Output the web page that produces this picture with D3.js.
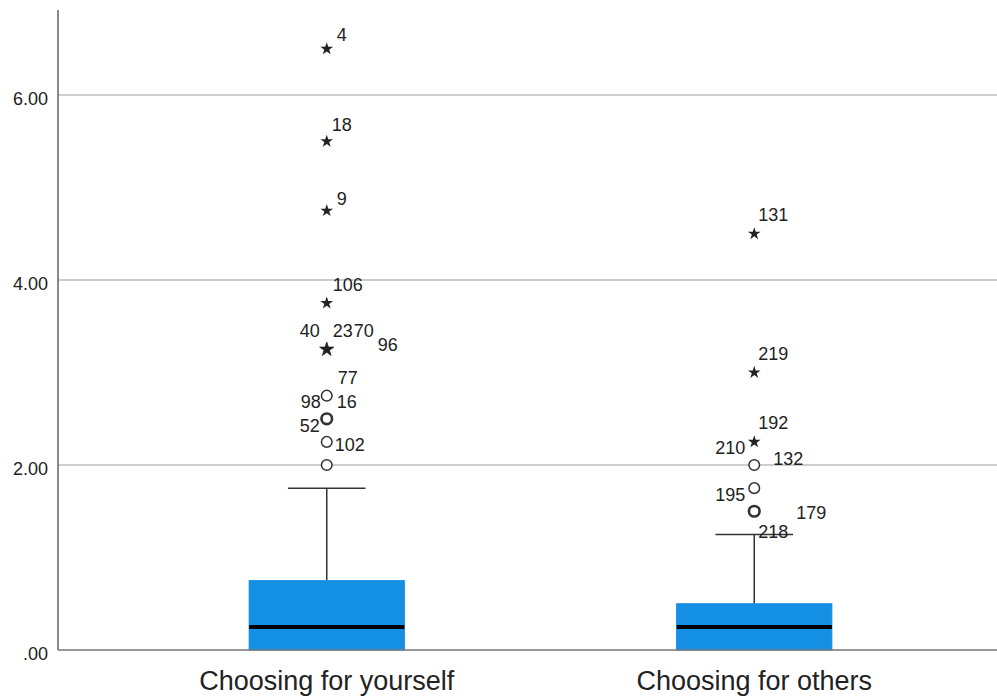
<!DOCTYPE html>
<html>
<head>
<meta charset="utf-8">
<script src="https://cdn.jsdelivr.net/npm/d3@7"></script>
<style>
  body { margin: 0; background: #fff; }
  text { font-family: "Liberation Sans", Arial, sans-serif; fill: #222; }
</style>
</head>
<body>
<div id="chart"></div>
<script>
// box summaries, one entry per category
var categories = ["Choosing for yourself", "Choosing for others"];
var q1 = [0, 0];
var medians = [0.25, 0.25];
var q3 = [0.75, 0.5];
var whiskerLow = [0, 0];
var whiskerHigh = [1.75, 1.25];

// outliers: category index, value, kind (circle = outlier, star = extreme), multiple cases
var outliers = [
    {cat: 0, value: 2.0, kind: "circle", multi: false},
    {cat: 0, value: 2.25, kind: "circle", multi: false},
    {cat: 0, value: 2.5, kind: "circle", multi: true},
    {cat: 0, value: 2.75, kind: "circle", multi: false},
    {cat: 0, value: 3.25, kind: "star", multi: true},
    {cat: 0, value: 3.75, kind: "star", multi: false},
    {cat: 0, value: 4.75, kind: "star", multi: false},
    {cat: 0, value: 5.5, kind: "star", multi: false},
    {cat: 0, value: 6.5, kind: "star", multi: false},
    {cat: 1, value: 1.5, kind: "circle", multi: true},
    {cat: 1, value: 1.75, kind: "circle", multi: false},
    {cat: 1, value: 2.0, kind: "circle", multi: false},
    {cat: 1, value: 2.25, kind: "star", multi: false},
    {cat: 1, value: 3.0, kind: "star", multi: false},
    {cat: 1, value: 4.5, kind: "star", multi: false}
];

// case labels next to outliers
var caseLabels = [
    {cat: 0, value: 6.5, label: "4"},
    {cat: 0, value: 5.5, label: "18"},
    {cat: 0, value: 4.75, label: "9"},
    {cat: 0, value: 3.75, label: "106"},
    {cat: 0, value: 3.25, label: "40"},
    {cat: 0, value: 3.25, label: "23"},
    {cat: 0, value: 3.25, label: "70"},
    {cat: 0, value: 3.25, label: "96"},
    {cat: 0, value: 2.75, label: "77"},
    {cat: 0, value: 2.75, label: "98"},
    {cat: 0, value: 2.5, label: "16"},
    {cat: 0, value: 2.5, label: "52"},
    {cat: 0, value: 2.25, label: "102"},
    {cat: 1, value: 4.5, label: "131"},
    {cat: 1, value: 3.0, label: "219"},
    {cat: 1, value: 2.25, label: "192"},
    {cat: 1, value: 2.25, label: "210"},
    {cat: 1, value: 2.0, label: "132"},
    {cat: 1, value: 1.75, label: "195"},
    {cat: 1, value: 1.5, label: "179"},
    {cat: 1, value: 1.5, label: "218"}
];

var yTicks = [0, 2, 4, 6];

// label placement relative to the marker: [dx, dy, anchor]
var labelPos = {
    "4": [10, -8, "start"], "18": [5, -10, "start"], "9": [10, -6, "start"],
    "106": [6, -12, "start"], "40": [-7, -12, "end"], "23": [6, -12, "start"],
    "70": [27, -12, "start"],
    "96": [51, 2, "start"], "77": [11, -12, "start"], "98": [-6, 12, "end"],
    "16": [10, -11, "start"], "52": [-7, 13, "end"], "102": [8, 9, "start"],
    "131": [4, -13, "start"], "219": [4, -13, "start"], "192": [4, -13, "start"],
    "210": [-9, 12, "end"], "132": [19, 0, "start"], "195": [-9, 13, "end"],
    "179": [42, 8, "start"], "218": [4, 27, "start"]
};

function draw_chart() {
    var width = 997, height = 696;
    var axisX = 58, plotRight = 997, plotBottom = 650, plotTop = 10;

    var svg = d3.select("#chart").append("svg")
        .attr("width", width).attr("height", height);

    var y = d3.scaleLinear().domain([0, 6.92]).range([plotBottom, plotTop]);
    var x = d3.scaleBand().domain(d3.range(categories.length))
        .range([113, 968]).padding(0);
    var boxW = x.bandwidth() * 0.363;
    function cx(i) { return x(i) + x.bandwidth() / 2; }

    // gridlines
    svg.selectAll("line.grid")
        .data(yTicks.filter(function(d) { return d > 0; }))
        .enter().append("line")
        .attr("class", "grid")
        .attr("x1", axisX).attr("x2", plotRight)
        .attr("y1", function(d) { return y(d); })
        .attr("y2", function(d) { return y(d); })
        .attr("stroke", "#bdbdbd").attr("stroke-width", 1.5);

    // y tick labels
    var fmt = d3.format(".2f");
    svg.selectAll("text.ytick")
        .data(yTicks)
        .enter().append("text")
        .attr("class", "ytick")
        .attr("x", 48)
        .attr("y", function(d) { return y(d) + 10; })
        .attr("text-anchor", "end")
        .style("font-size", "18px")
        .text(function(d) { return fmt(d).replace(/^0/, ""); });

    // whiskers
    var g = svg.selectAll("g.box")
        .data(categories)
        .enter().append("g").attr("class", "box");

    g.append("line")
        .attr("x1", function(d, i) { return cx(i); })
        .attr("x2", function(d, i) { return cx(i); })
        .attr("y1", function(d, i) { return y(q3[i]); })
        .attr("y2", function(d, i) { return y(whiskerHigh[i]); })
        .attr("stroke", "#333").attr("stroke-width", 1.5);
    g.append("line")
        .attr("x1", function(d, i) { return cx(i) - boxW / 4; })
        .attr("x2", function(d, i) { return cx(i) + boxW / 4; })
        .attr("y1", function(d, i) { return y(whiskerHigh[i]); })
        .attr("y2", function(d, i) { return y(whiskerHigh[i]); })
        .attr("stroke", "#333").attr("stroke-width", 1.5);

    // boxes
    g.append("rect")
        .attr("x", function(d, i) { return cx(i) - boxW / 2; })
        .attr("width", boxW)
        .attr("y", function(d, i) { return y(q3[i]); })
        .attr("height", function(d, i) { return y(q1[i]) - y(q3[i]); })
        .attr("fill", "#1490e4")
        .attr("stroke", "#1a8ae0").attr("stroke-width", 1);

    g.append("line")
        .attr("x1", function(d, i) { return cx(i) - boxW / 2; })
        .attr("x2", function(d, i) { return cx(i) + boxW / 2; })
        .attr("y1", function(d, i) { return y(medians[i]); })
        .attr("y2", function(d, i) { return y(medians[i]); })
        .attr("stroke", "#000").attr("stroke-width", 4);

    // axes lines
    svg.append("line")
        .attr("x1", axisX).attr("x2", axisX)
        .attr("y1", plotTop).attr("y2", plotBottom)
        .attr("stroke", "#8a8a8a").attr("stroke-width", 2);
    svg.append("line")
        .attr("x1", axisX).attr("x2", plotRight)
        .attr("y1", plotBottom).attr("y2", plotBottom)
        .attr("stroke", "#777").attr("stroke-width", 1.5);

    // outlier markers
    var circles = outliers.filter(function(d) { return d.kind === "circle"; });
    var stars = outliers.filter(function(d) { return d.kind === "star"; });

    svg.selectAll("circle.out")
        .data(circles)
        .enter().append("circle")
        .attr("class", "out")
        .attr("cx", function(d) { return cx(d.cat); })
        .attr("cy", function(d) { return y(d.value); })
        .attr("r", 5.3)
        .attr("fill", "#fff")
        .attr("stroke", "#333")
        .attr("stroke-width", function(d) { return d.multi ? 2.6 : 1.5; });

    var star = d3.symbol().type(d3.symbolStar);
    svg.selectAll("path.star")
        .data(stars)
        .enter().append("path")
        .attr("class", "star")
        .attr("transform", function(d) {
            return "translate(" + cx(d.cat) + "," + y(d.value) + ")";
        })
        .attr("d", function(d) { return star.size(d.multi ? 62 : 50)(); })
        .attr("fill", "#222")
        .attr("stroke", "#222")
        .attr("stroke-width", function(d) { return d.multi ? 0.8 : 0; });

    // case labels
    svg.selectAll("text.case")
        .data(caseLabels)
        .enter().append("text")
        .attr("class", "case")
        .attr("x", function(d) { return cx(d.cat) + labelPos[d.label][0]; })
        .attr("y", function(d) { return y(d.value) + labelPos[d.label][1]; })
        .attr("text-anchor", function(d) { return labelPos[d.label][2]; })
        .style("font-size", "18px")
        .text(function(d) { return d.label; });

    // category labels
    svg.selectAll("text.cat")
        .data(categories)
        .enter().append("text")
        .attr("class", "cat")
        .attr("x", function(d, i) { return cx(i); })
        .attr("y", 690)
        .attr("text-anchor", "middle")
        .style("font-size", "27px")
        .text(function(d) { return d; });
}

window.onload = draw_chart;
</script>
</body>
</html>
